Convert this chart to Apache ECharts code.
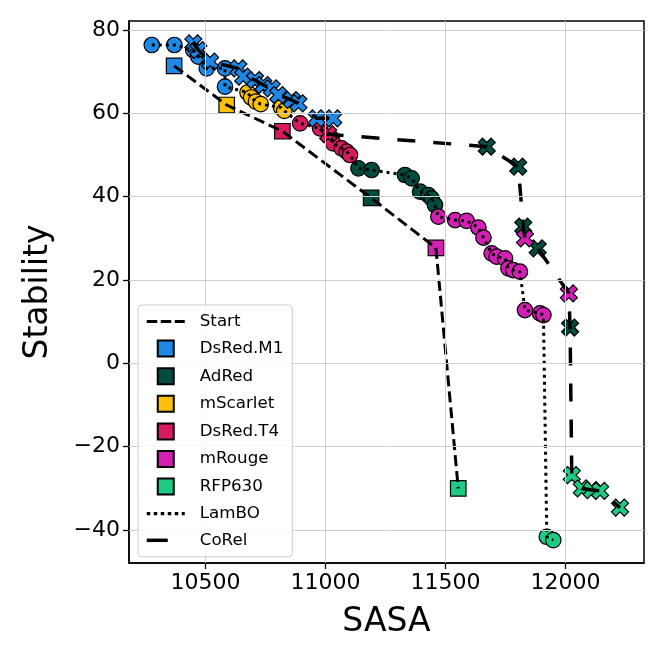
<!DOCTYPE html>
<html>
<head>
<meta charset="utf-8">
<script src="https://cdn.jsdelivr.net/npm/echarts@6/dist/echarts.min.js"></script>
<style>
  html, body { margin: 0; padding: 0; background: #fff; }
  #chart { width: 664px; height: 664px; }
</style>
</head>
<body>
<div id="chart"></div>
<script>
// ---- data ----
const proteins = ['DsRed.M1', 'AdRed', 'mScarlet', 'DsRed.T4', 'mRouge', 'RFP630'];
const proteinColors = ['#1E88E5', '#004D40', '#FFC107', '#D81B60', '#D41FB4', '#1ECB84'];

// Start points (squares), indexed like proteins
const startSASA = [10369, 11190, 10588, 10820, 11460, 11553];
const startStability = [71.4, 39.7, 62.0, 55.7, 27.7, -30.0];

// LamBO designs (circles) [SASA, Stability]
const lamboDsRedM1 = [[10276, 76.4], [10370, 76.4], [10449, 75.2], [10470, 73.6], [10505, 70.8], [10581, 70.8], [10581, 66.4]];
const lamboAdRed = [[11137, 46.8], [11192, 46.4], [11331, 45.2], [11359, 44.4], [11394, 41.2], [11428, 40.4], [11442, 39.6], [11456, 38.0]];
const lamboMScarlet = [[10675, 65.0], [10690, 63.8], [10710, 62.8], [10730, 62.2], [10815, 61.4], [10828, 60.6]];
const lamboDsRedT4 = [[10894, 57.6], [10977, 56.4], [11026, 54.0], [11032, 52.8], [11067, 51.6], [11088, 50.8], [11102, 50.0]];
const lamboMRouge = [[11470, 35.2], [11540, 34.4], [11588, 34.2], [11637, 32.6], [11658, 30.2], [11692, 26.4], [11713, 25.6], [11748, 25.2], [11762, 22.8], [11782, 22.4], [11810, 22.0], [11831, 12.8], [11894, 12.0], [11908, 11.6]];
const lamboRFP630 = [[11922, -41.6], [11949, -42.4]];

// CoRel designs (crosses) [SASA, Stability]
const corelDsRedM1 = [[10449, 76.8], [10470, 75.2], [10519, 72.4], [10637, 70.8], [10657, 68.8], [10706, 68.0], [10741, 66.8], [10776, 66.0], [10803, 64.4], [10859, 63.2], [10887, 62.4], [10963, 58.8], [11032, 58.8]];
const corelAdRed = [[11672, 52.0], [11803, 47.2], [11824, 32.8], [11884, 27.6], [12019, 8.6]];
const corelMScarlet = [];
const corelDsRedT4 = [[11011, 55.0]];
const corelMRouge = [[11831, 30.0], [12014, 16.8]];
const corelRFP630 = [[12026, -26.8], [12068, -30.0], [12109, -30.4], [12144, -30.6], [12227, -34.6]];

const xTicks = [10500, 11000, 11500, 12000];
const yTicks = [-40, -20, 0, 20, 40, 60, 80];

// ---- build ----
const lamboByProtein = [lamboDsRedM1, lamboAdRed, lamboMScarlet, lamboDsRedT4, lamboMRouge, lamboRFP630];
const corelByProtein = [corelDsRedM1, corelAdRed, corelMScarlet, corelDsRedT4, corelMRouge, corelRFP630];

const byStabilityDesc = (a, b) => b[1] - a[1];
const startLine = proteins.map((p, i) => [startSASA[i], startStability[i]]).sort(byStabilityDesc);
const lamboLine = [].concat(...lamboByProtein).sort(byStabilityDesc);
const corelLine = [].concat(...corelByProtein).sort(byStabilityDesc);

const FONT = 'DejaVu Sans';
const X_PATH = 'path://M-1,-0.5L-0.5,-1L0,-0.5L0.5,-1L1,-0.5L0.5,0L1,0.5L0.5,1L0,0.5L-0.5,1L-1,0.5L-0.5,0Z';
const SQUARE_PATH = 'path://M0,0L10,0L10,10L0,10Z';
const minusFmt = v => (v < 0 ? '\u2212' + Math.abs(v) : String(v));
const plainFmt = v => String(v);

const series = [];

// grid lines via markLine (on axis values)
series.push({
  type: 'line', name: '_grid', data: [], silent: true, z: 1,
  markLine: {
    silent: true, symbol: ['none', 'none'], animation: false,
    label: { show: false },
    lineStyle: { color: '#cfcfcf', width: 1, type: 'solid' },
    emphasis: { disabled: true },
    data: xTicks.map(v => ({ xAxis: v })).concat(yTicks.map(v => ({ yAxis: v })))
  }
});

const commonMarker = { borderColor: '#000', borderWidth: 1.2, opacity: 1 };

proteins.forEach((p, i) => {
  series.push({
    type: 'scatter', name: p, z: 2,
    symbol: 'rect', symbolSize: 15.5,
    itemStyle: Object.assign({ color: proteinColors[i] }, commonMarker),
    emphasis: { disabled: true },
    data: [[startSASA[i], startStability[i]]]
  });
});
proteins.forEach((p, i) => {
  series.push({
    type: 'scatter', name: p + ' (LamBO)', z: 2,
    symbol: 'circle', symbolSize: 15.5,
    itemStyle: Object.assign({ color: proteinColors[i] }, commonMarker),
    emphasis: { disabled: true },
    data: lamboByProtein[i]
  });
});
proteins.forEach((p, i) => {
  series.push({
    type: 'scatter', name: p + ' (CoRel)', z: 2,
    symbol: X_PATH, symbolSize: 17,
    itemStyle: Object.assign({ color: proteinColors[i] }, commonMarker),
    emphasis: { disabled: true },
    data: corelByProtein[i]
  });
});

series.push({
  type: 'line', name: 'Start', z: 3, symbol: 'none', silent: true,
  itemStyle: { color: '#000' },
  lineStyle: { color: '#000', width: 3, type: [11, 5] },
  data: startLine
});
series.push({
  type: 'line', name: 'LamBO', z: 3, symbol: 'none', silent: true,
  itemStyle: { color: '#000' },
  lineStyle: { color: '#000', width: 3, type: [3, 4] },
  data: lamboLine
});
series.push({
  type: 'line', name: 'CoRel', z: 3, symbol: 'none', silent: true,
  itemStyle: { color: '#000' },
  lineStyle: { color: '#000', width: 3.5, type: [18, 18] },
  data: corelLine
});

const hiddenSymbol = { opacity: 0, color: 'rgba(0,0,0,0)', borderWidth: 0 };

const option = {
  animation: false,
  backgroundColor: '#fff',
  textStyle: { fontFamily: FONT },
  grid: {
    left: 129, top: 21, width: 515, height: 542,
    show: true, borderColor: '#000', borderWidth: 1.5, backgroundColor: 'transparent'
  },
  xAxis: {
    type: 'value', min: 10181, max: 12327,
    name: 'SASA', nameLocation: 'middle', nameGap: 43,
    nameTextStyle: { fontSize: 33, color: '#000', fontFamily: FONT },
    axisLine: { show: true, onZero: false, lineStyle: { color: '#000', width: 1.5 } },
    axisTick: { show: true, customValues: xTicks, length: 6, lineStyle: { color: '#000', width: 1.3 } },
    axisLabel: { customValues: xTicks, fontSize: 22, color: '#000', margin: 9, fontFamily: FONT, formatter: plainFmt },
    splitLine: { show: false }
  },
  yAxis: {
    type: 'value', min: -47.9, max: 82.16,
    name: 'Stability', nameLocation: 'middle', nameGap: 74, nameRotate: 90,
    nameTextStyle: { fontSize: 33, color: '#000', fontFamily: FONT },
    axisLine: { show: true, onZero: false, lineStyle: { color: '#000', width: 1.5 } },
    axisTick: { show: true, customValues: yTicks, length: 6, lineStyle: { color: '#000', width: 1.3 } },
    axisLabel: { customValues: yTicks, fontSize: 22, color: '#000', margin: 9, fontFamily: FONT, formatter: minusFmt },
    splitLine: { show: false }
  },
  legend: {
    orient: 'vertical', left: 138, top: 305,
    padding: [8, 9, 8, 7],
    itemWidth: 38, itemHeight: 16, itemGap: 9.6,
    backgroundColor: 'rgba(255,255,255,0.85)',
    borderColor: '#cccccc', borderWidth: 1, borderRadius: 4,
    selectedMode: false, z: 10,
    textStyle: { fontSize: 16.7, color: '#000', fontFamily: FONT, padding: [0, 0, 0, 10], lineHeight: 16 },
    data: [{ name: 'Start', itemStyle: hiddenSymbol, lineStyle: { width: 3.2, type: [10.5, 3.5] } }]
      .concat(proteins.map(p => ({ name: p, icon: SQUARE_PATH })))
      .concat([
        { name: 'LamBO', itemStyle: hiddenSymbol, lineStyle: { width: 3.2, type: [3.5, 3.5] } },
        { name: 'CoRel', itemStyle: hiddenSymbol, lineStyle: { width: 3.5, type: [21, 40] } }
      ])
  },
  series: series
};

const chart = echarts.init(document.getElementById('chart'), null, { renderer: 'canvas' });
chart.setOption(option);
</script>
</body>
</html>
